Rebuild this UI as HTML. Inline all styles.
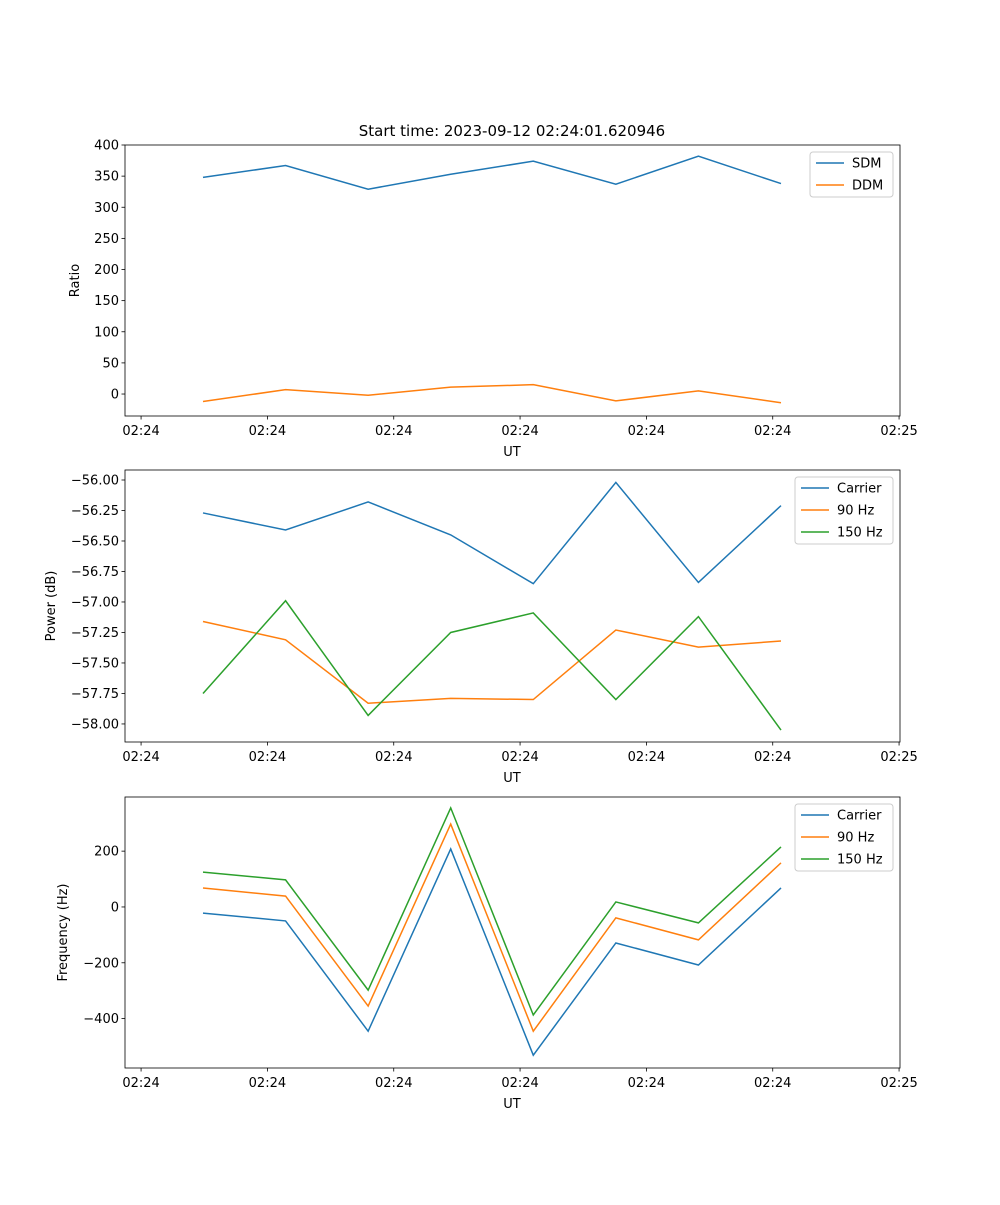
<!DOCTYPE html>
<html><head><meta charset="utf-8"><style>
body{margin:0;background:#fff}
svg text{font-family:"DejaVu Sans","Liberation Sans",sans-serif;font-size:13px;fill:#000}
</style></head><body>
<svg id="fig" width="1000" height="1200" xmlns="http://www.w3.org/2000/svg">
<text x="512" y="136" text-anchor="middle" style="font-size:15px">Start time: 2023-09-12 02:24:01.620946</text>
</svg>
<script>
const xTickLabels=["02:24","02:24","02:24","02:24","02:24","02:24","02:25"];
const xTickIdx=[-0.75,0.78,2.31,3.84,5.37,6.90,8.43];
const sdm=[348,367,329,353,374,337,382,338];
const ddm=[-12,7,-2,11,15,-11,5,-14];
const pCarrier=[-56.27,-56.41,-56.18,-56.45,-56.85,-56.02,-56.84,-56.21];
const p90=[-57.16,-57.31,-57.83,-57.79,-57.80,-57.23,-57.37,-57.32];
const p150=[-57.75,-56.99,-57.93,-57.25,-57.09,-57.80,-57.12,-58.05];
const fCarrier=[-22,-50,-445,208,-531,-129,-208,68];
const f90=[68,39,-355,297,-445,-39,-118,158];
const f150=[125,97,-298,355,-387,18,-57,215];
const ticks1=[0,50,100,150,200,250,300,350,400];
const ticks2=[-58,-57.75,-57.5,-57.25,-57,-56.75,-56.5,-56.25,-56];
const ticks3=[-400,-200,0,200];
const C=["#1f77b4","#ff7f0e","#2ca02c"];
const svg=document.getElementById('fig');
const NS="http://www.w3.org/2000/svg";
function mk(t,a,p){const e=document.createElementNS(NS,t);for(const k in a)e.setAttribute(k,a[k]);(p||svg).appendChild(e);return e;}
const L=125,R=900;
function xs(i){return 203+i*82.57;}
function panel(top,bot,ymin,ymax,ticks,fmt,series,names,ylabel,ylx,legX,legW,key){
  const g=mk('g',{});
  
  
  const ys=v=>bot-(v-ymin)/(ymax-ymin)*(bot-top);
  series.forEach((s,k)=>{
    const pl=mk('polyline',{points:s.map((v,i)=>xs(i)+','+ys(v)).join(' '),fill:'none',stroke:C[k],'stroke-width':1.5},g);
    
    
  });
  mk('rect',{x:L,y:top,width:R-L,height:bot-top,fill:'none',stroke:'#000','stroke-width':0.8},g);
  ticks.forEach(v=>{const y=ys(v);mk('line',{x1:L-3.5,x2:L,y1:y,y2:y,stroke:'#000','stroke-width':0.8},g);
    const t=mk('text',{x:L-6,y:y+4.5,'text-anchor':'end'},g);t.textContent=fmt(v);
    });
  xTickIdx.forEach((ix,j)=>{const x=xs(ix);mk('line',{x1:x,x2:x,y1:bot,y2:bot+3.5,stroke:'#000','stroke-width':0.8},g);
    const t=mk('text',{x:x,y:bot+19,'text-anchor':'middle'},g);t.textContent=xTickLabels[j];
    });
  const xl=mk('text',{x:512,y:bot+40,'text-anchor':'middle'},g);xl.textContent='UT';
  
  const yc=(top+bot)/2;
  const yl=mk('text',{x:ylx,y:yc,'text-anchor':'middle',transform:`rotate(-90 ${ylx} ${yc})`},g);yl.textContent=ylabel;
  
  const lg=mk('g',{},g);
  
  mk('rect',{x:legX,y:top+7,width:legW,height:names.length*22+1,rx:3,fill:'#fff',stroke:'#ccc'},lg);
  names.forEach((n,k)=>{const y=top+18+k*22;
    mk('line',{x1:legX+6,x2:legX+34,y1:y,y2:y,stroke:C[k],'stroke-width':1.5},lg);
    const t=mk('text',{x:legX+42,y:y+4.5},lg);t.textContent=n;
    });
}
panel(145,416,-35.3,400,ticks1,v=>String(v),[sdm,ddm],["SDM","DDM"],"Ratio",79,810,83,'ratio');
panel(470,742,-58.148,-55.918,ticks2,v=>'\u2212'+Math.abs(v).toFixed(2),[pCarrier,p90,p150],["Carrier","90 Hz","150 Hz"],"Power (dB)",55,795,98,'power');
panel(797,1068,-577,394,ticks3,v=>v<0?'\u2212'+Math.abs(v):String(v),[fCarrier,f90,f150],["Carrier","90 Hz","150 Hz"],"Frequency (Hz)",67,795,98,'frequency');
</script>
</body></html>
